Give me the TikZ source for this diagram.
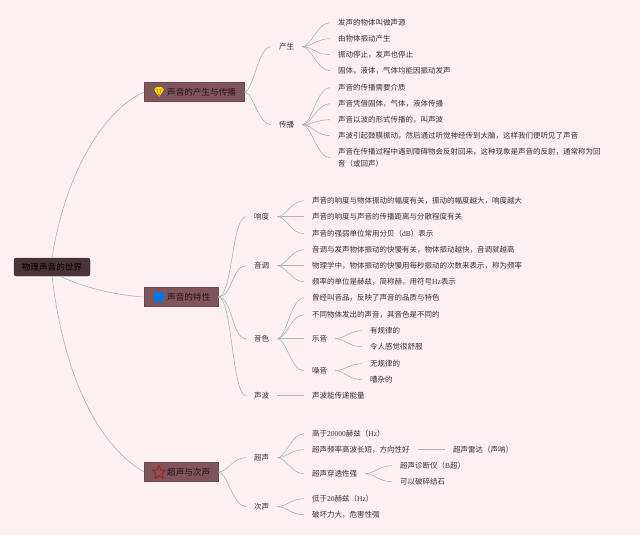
\documentclass[tikz,border=0pt]{standalone}
\usepackage{fontspec}
\setmainfont{Noto Sans CJK SC}
\newfontfamily\latn{Liberation Serif}
\definecolor{bgpink}{HTML}{FDF0F2}
\definecolor{boxrose}{HTML}{7F545C}
\definecolor{boxdark}{HTML}{4A3338}
\definecolor{inkdark}{HTML}{3F3033}
\definecolor{inkbox}{HTML}{2A1518}
\definecolor{linkcol}{HTML}{A6BBB1}
\tikzset{
  item/.style={anchor=west,yshift=-0.7pt,inner xsep=8pt,inner ysep=0pt,text=inkdark,font=\fontsize{7.5pt}{11.5pt}\selectfont,align=left},
  topic/.style={anchor=west,draw=boxrose!85!black,line width=0.3pt,fill=boxrose,minimum height=19pt,inner sep=0pt,text=inkbox,font=\fontsize{8.6pt}{10pt}\selectfont,align=left},
  rootbox/.style={draw=boxdark,line width=0.3pt,fill=boxdark,rounded corners=2pt,minimum width=76pt,minimum height=18pt,inner sep=0pt,text=black,font=\fontsize{8.6pt}{10pt}\selectfont},
  link/.style={draw=linkcol,line width=0.6pt}
}
\newcommand{\lnk}[2]{\draw[link] (#1.east) .. controls +(9,0) and +(-13,0) .. (#2.west);}
\begin{document}
\begin{tikzpicture}[x=1pt,y=-1pt]
\fill[bgpink] (0,0) rectangle (640,535);
\useasboundingbox (0,0) rectangle (640,535);
% root and topics
\node[rootbox] (root) at (52,267) {物理声音的世界};
\node[topic,minimum width=100pt,text width=100pt] (ta) at (144,92) {\hspace*{23pt}声音的产生与传播};
\node[topic,minimum width=74pt,text width=74pt] (tb) at (144,297) {\hspace*{23pt}声音的特性};
\node[topic,minimum width=74pt,text width=74pt] (tc) at (144,472) {\hspace*{23pt}超声与次声};
% icons
\fill[yellow!80!orange] (154,89.5) -- (156.5,87) -- (161.5,87) -- (164,89.5) -- (159,97) -- cycle;
\draw[orange!70!black,line width=0.3pt] (154,89.5) -- (164,89.5) (157,89.5) -- (159,97) -- (161,89.5);
\fill[blue!45!cyan!85!black] (154,292) rectangle (163.5,301.5);
\draw[red!60!black!85!white,line width=1.2pt,line join=round] (159,465.5) -- (161,470) -- (165.5,470.3) -- (162.2,473.5) -- (163.2,478.3) -- (159,475.8) -- (154.8,478.3) -- (155.8,473.5) -- (152.5,470.3) -- (157,470) -- cycle;
% branch a
\node[item] (a1) at (271,46) {产生};
\node[item] (a2) at (271,124) {传播};
\node[item] (a11) at (330,22) {发声的物体叫做声源};
\node[item] (a12) at (330,38) {由物体振动产生};
\node[item] (a13) at (330,54) {振动停止，发声也停止};
\node[item] (a14) at (330,70) {固体，液体，气体均能因振动发声};
\node[item] (a21) at (330,87) {声音的传播需要介质};
\node[item] (a22) at (330,103) {声音凭借固体，气体，液体传播};
\node[item] (a23) at (330,119) {声音以波的形式传播的，叫声波};
\node[item] (a24) at (330,135) {声波引起鼓膜振动，然后通过听觉神经传到大脑，这样我们便听见了声音};
\node[item] (a25) at (330,157) {声音在传播过程中遇到障碍物会反射回来，这种现象是声音的反射，通常称为回\\音（或回声）};
% branch b
\node[item] (b1) at (246,216) {响度};
\node[item] (b2) at (246,265) {音调};
\node[item] (b3) at (246,338) {音色};
\node[item] (b4) at (246,395) {声波};
\node[item] (b11) at (304,200) {声音的响度与物体振动的幅度有关，振动的幅度越大，响度越大};
\node[item] (b12) at (304,216) {声音的响度与声音的传播距离与分散程度有关};
\node[item] (b13) at (304,233) {声音的强弱单位常用分贝（{\latn dB}）表示};
\node[item] (b21) at (304,249) {音调与发声物体振动的快慢有关，物体振动越快，音调就越高};
\node[item] (b22) at (304,265) {物理学中，物体振动的快慢用每秒振动的次数来表示，称为频率};
\node[item] (b23) at (304,281) {频率的单位是赫兹，简称赫，用符号{\latn Hz}表示};
\node[item] (b31) at (304,297) {曾经叫音品，反映了声音的品质与特色};
\node[item] (b32) at (304,314) {不同物体发出的声音，其音色是不同的};
\node[item] (b33) at (304,338) {乐音};
\node[item] (b34) at (304,370) {噪音};
\node[item] (b331) at (362,330) {有规律的};
\node[item] (b332) at (362,346) {令人感觉很舒服};
\node[item] (b341) at (362,363) {无规律的};
\node[item] (b342) at (362,379) {嘈杂的};
\node[item] (b41) at (304,395) {声波能传递能量};
% branch c
\node[item] (c1) at (246,457) {超声};
\node[item] (c2) at (246,506) {次声};
\node[item] (c11) at (304,433) {高于{\latn 20000}赫兹（{\latn Hz}）};
\node[item] (c12) at (304,449) {超声频率高波长短，方向性好};
\node[item] (c13) at (304,473) {超声穿透性强};
\node[item] (c121) at (445,449) {超声雷达（声呐）};
\node[item] (c131) at (392,465) {超声诊断仪（{\latn B}超）};
\node[item] (c132) at (392,481) {可以破碎结石};
\node[item] (c21) at (304,498) {低于{\latn 20}赫兹（{\latn Hz}）};
\node[item] (c22) at (304,514) {破坏力大，危害性强};
% root links
\draw[link] (root.north) .. controls (64,180) and (100,112) .. (ta.west);
\draw[link] ([xshift=8pt]root.south) .. controls (85,288) and (115,295) .. (tb.west);
\draw[link] (root.south) .. controls (62,360) and (90,440) .. (tc.west);
% topic links
\lnk{ta}{a1} \lnk{ta}{a2}
\foreach \k in {b1,b2,b3,b4} {\draw[link] (tb.east) .. controls +(14,0) and +(-14,0) .. (\k.west);}
\lnk{tc}{c1} \lnk{tc}{c2}
% branch links
\foreach \k in {a11,a12,a13,a14} {\lnk{a1}{\k}}
\foreach \k in {a21,a22,a23,a24,a25} {\lnk{a2}{\k}}
\foreach \k in {b11,b12,b13} {\lnk{b1}{\k}}
\foreach \k in {b21,b22,b23} {\lnk{b2}{\k}}
\foreach \k in {b31,b32,b33,b34} {\lnk{b3}{\k}}
\foreach \k in {b331,b332} {\lnk{b33}{\k}}
\foreach \k in {b341,b342} {\lnk{b34}{\k}}
\lnk{b4}{b41}
\foreach \k in {c11,c12,c13} {\lnk{c1}{\k}}
\lnk{c12}{c121}
\foreach \k in {c131,c132} {\lnk{c13}{\k}}
\foreach \k in {c21,c22} {\lnk{c2}{\k}}
\end{tikzpicture}
\end{document}
